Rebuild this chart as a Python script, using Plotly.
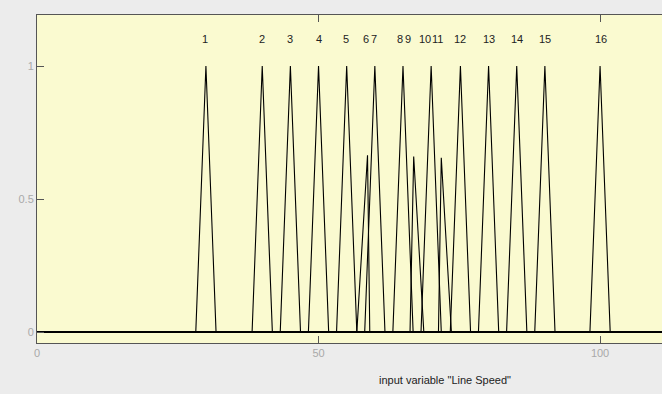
import plotly.graph_objects as go

# Membership functions of input variable "Line Speed"
mf_names = ["1", "2", "3", "4", "5", "6", "7", "8", "9", "10", "11", "12", "13", "14", "15", "16"]
mf_left = [28.2, 38.2, 43.2, 48.2, 53.2, 56.8, 58.2, 63.2, 66.25, 68.2, 71.3, 73.4, 78.4, 83.4, 88.4, 98.2]
mf_peak = [30.0, 40.0, 45.0, 50.0, 55.0, 58.7, 60.0, 65.0, 66.9, 70.0, 71.8, 75.2, 80.2, 85.2, 90.2, 100.0]
mf_right = [31.8, 41.8, 46.8, 51.8, 56.8, 59.1, 61.8, 66.8, 68.7, 71.8, 73.6, 77.0, 82.0, 87.0, 92.0, 101.8]
mf_height = [1, 1, 1, 1, 1, 0.665, 1, 1, 0.66, 1, 0.655, 1, 1, 1, 1, 1]
label_x = [29.8, 39.9, 45.0, 50.0, 54.9, 58.5, 59.9, 64.4, 65.8, 68.95, 71.05, 75.2, 80.2, 85.2, 90.2, 100.1]
label_y = 1.1

x_range = [0, 111.0]
y_range = [-0.041, 1.192]
x_ticks = [0, 50, 100]
y_ticks = [0, 0.5, 1]
y_ticktext = ["0", "0.5", "1"]
x_title = 'input variable "Line Speed"'

fig = go.Figure()
for i in range(len(mf_names)):
    fig.add_trace(go.Scatter(
        x=[x_range[0], mf_left[i], mf_peak[i], mf_right[i], x_range[1]],
        y=[0, 0, mf_height[i], 0, 0],
        mode="lines",
        line=dict(color="black", width=1.1),
        hoverinfo="skip",
        showlegend=False,
    ))

for i, name in enumerate(mf_names):
    fig.add_annotation(
        x=label_x[i], y=label_y, xref="x", yref="y",
        text=name, showarrow=False,
        font=dict(family="Liberation Sans, Arial, sans-serif", size=11, color="#222222"),
    )

fig.add_annotation(
    x=72.5, y=-0.113, xref="x", yref="paper", yanchor="middle",
    text=x_title, showarrow=False,
    font=dict(family="Liberation Sans, Arial, sans-serif", size=11, color="#222222"),
)

axis_color = "#555555"
tick_font = dict(family="Liberation Sans, Arial, sans-serif", size=11, color="#a9a9a9")

fig.update_layout(
    width=662, height=394,
    margin=dict(l=37, r=0, t=15, b=51),
    paper_bgcolor="#ececec",
    plot_bgcolor="rgb(250,250,208)",
    showlegend=False,
    xaxis=dict(
        range=x_range, tickvals=x_ticks, ticks="inside", ticklen=7,
        tickcolor=axis_color, showline=True, linecolor=axis_color, linewidth=1,
        showgrid=False, zeroline=False, tickfont=tick_font, mirror=False,
    ),
    xaxis2=dict(
        range=x_range, tickvals=x_ticks, ticks="inside", ticklen=7,
        tickcolor=axis_color, showline=True, linecolor=axis_color, linewidth=1,
        showgrid=False, zeroline=False, showticklabels=False,
        overlaying="x", side="top", matches="x",
    ),
    yaxis=dict(
        range=y_range, tickvals=y_ticks, ticktext=y_ticktext, ticks="inside", ticklen=7,
        tickcolor=axis_color, showline=True, linecolor=axis_color, linewidth=1,
        showgrid=False, zeroline=False, tickfont=tick_font, mirror=False,
    ),
)
# dummy trace to activate top axis
fig.add_trace(go.Scatter(x=[None], y=[None], xaxis="x2", showlegend=False, hoverinfo="skip"))

fig.write_html("out.html")
